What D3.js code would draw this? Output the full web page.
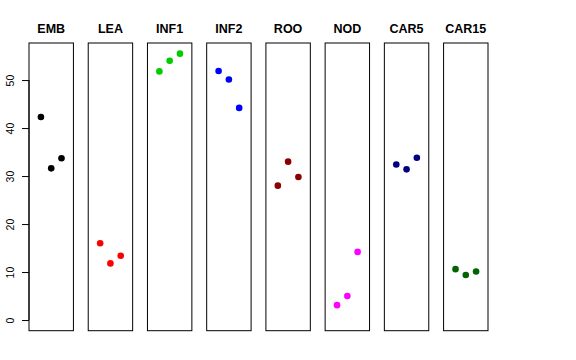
<!DOCTYPE html>
<html>
<head>
<meta charset="utf-8">
<script src="https://cdn.jsdelivr.net/npm/d3@7"></script>
<style>
	body { margin: 0; background: #fff; }
	svg { display: block; }
	text { font-family: "Liberation Sans", Arial, sans-serif; }
</style>
</head>
<body>
<svg id="chart" width="576" height="360"></svg>
<script>
	// tissues (panel titles)
	var categories = ["EMB", "LEA", "INF1", "INF2", "ROO", "NOD", "CAR5", "CAR15"];

	// three replicates per tissue
	var emb = [42.3, 31.6, 33.7];
	var lea = [16.0, 11.8, 13.4];
	var inf1 = [51.8, 54.0, 55.5];
	var inf2 = [51.9, 50.1, 44.2];
	var roo = [28.0, 33.0, 29.8];
	var nod = [3.1, 5.0, 14.2];
	var car5 = [32.4, 31.4, 33.8];
	var car15 = [10.6, 9.4, 10.1];

	var yTicks = [0, 10, 20, 30, 40, 50];

	var palette = ["#000000", "#ff0000", "#00cd00", "#0000ff", "#8b0000", "#ff00ff", "#000080", "#006400"];

	var series = [emb, lea, inf1, inf2, roo, nod, car5, car15];

	var svg = d3.select("#chart");

	// panels along x
	var xPanel = d3.scaleBand()
		.domain(categories)
		.range([29, 488])
		.paddingInner(0.25);

	// R style limits: c(0, max) plus 4% on each side
	var yMax = d3.max(series, function(s){ return d3.max(s); });
	var ext = yMax * 0.04;
	var yScale = d3.scaleLinear()
		.domain([-ext, yMax + ext])
		.range([330.7, 43]);

	var xInner = d3.scaleLinear()
		.domain([-0.16, 4.16])
		.range([0, xPanel.bandwidth()]);

	var panel = svg.selectAll("g.panel")
		.data(categories)
	.enter().append("g")
		.attr("class", "panel")
		.attr("transform", function(d){ return "translate(" + xPanel(d) + ",0)"; });

	panel.append("rect")
		.attr("x", 0)
		.attr("y", yScale.range()[1])
		.attr("width", xPanel.bandwidth())
		.attr("height", yScale.range()[0] - yScale.range()[1])
		.attr("fill", "none")
		.attr("stroke", "#000")
		.attr("stroke-width", 1);

	panel.append("text")
		.attr("x", xPanel.bandwidth() / 2)
		.attr("y", 33)
		.attr("text-anchor", "middle")
		.attr("font-size", "12.5px")
		.attr("font-weight", "bold")
		.text(function(d){ return d; });

	panel.selectAll("circle")
		.data(function(d, i){
			return series[i].map(function(v, j){ return {x: j + 1, y: v, color: palette[i]}; });
		})
	.enter().append("circle")
		.attr("cx", function(d){ return xInner(d.x); })
		.attr("cy", function(d){ return yScale(d.y); })
		.attr("r", 3.3)
		.attr("fill", function(d){ return d.color; });

	// left axis, labels turned like R's las = 0
	var yAxis = d3.axisLeft(yScale)
		.tickValues(yTicks)
		.tickSize(7)
		.tickFormat(d3.format("d"));

	var gy = svg.append("g")
		.attr("transform", "translate(" + xPanel(categories[0]) + ",0)")
		.call(yAxis);
	gy.select(".domain")
		.attr("d", "M0," + yScale(0) + "V" + yScale(50));
	gy.selectAll(".tick line").attr("stroke", "#000");
	gy.selectAll(".tick text")
		.attr("font-size", "10.5px")
		.attr("font-family", "Liberation Sans, Arial, sans-serif")
		.attr("fill", "#000")
		.attr("text-anchor", "middle")
		.attr("x", null)
		.attr("dy", null)
		.attr("transform", "translate(-19,0) rotate(-90)")
		.attr("dominant-baseline", "central");
</script>
</body>
</html>
